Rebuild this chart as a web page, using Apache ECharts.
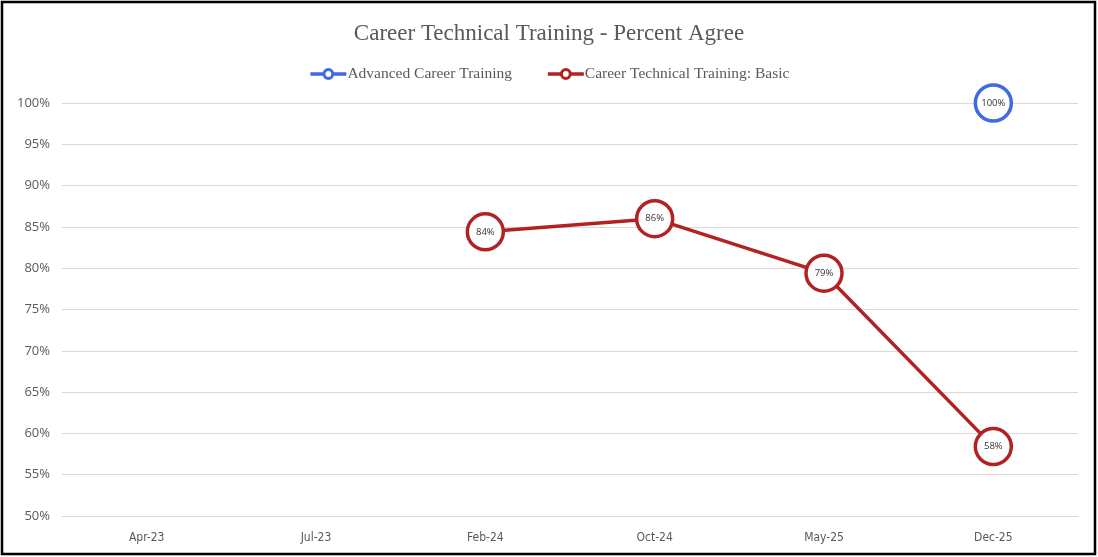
<!DOCTYPE html>
<html><head><meta charset="utf-8">
<script src="https://cdn.jsdelivr.net/npm/echarts@6/dist/echarts.min.js"></script>
<style>html,body{margin:0;padding:0;background:#fff}#c{width:1098px;height:557px}</style>
</head><body><div id="c"></div>
<script>
const categories = ['Apr-23','Jul-23','Feb-24','Oct-24','May-25','Dec-25'];
const advanced = [null, null, null, null, null, 100];
const basic = [null, null, 84.4, 86.0, 79.4, 58.4];
const seriesNames = ['Advanced Career Training','Career Technical Training: Basic'];
const colors = ['#4169e1', '#b22222'];

const chart = echarts.init(document.getElementById('c'));
const lbl = {show:true, position:'inside', fontSize:9.5, color:'#333', fontFamily:'Open Sans',
  formatter: p => Math.round(p.value) + '%'};
chart.setOption({
  animation:false,
  title:{text:'Career Technical Training - Percent Agree', left:'center', top:17,
    textStyle:{fontFamily:'Liberation Serif', fontSize:23, fontWeight:'normal', color:'#595959'}},
  legend:{top:61, left:'center', itemGap:34, itemWidth:36, itemHeight:11,
    textStyle:{fontFamily:'Liberation Serif', fontSize:15.5, color:'#595959', padding:[0,0,0,-4]},
    data:seriesNames.map((n,i)=>({name:n,
      itemStyle:{color:'#fff', borderColor:colors[i], borderWidth:3},
      lineStyle:{color:colors[i], width:3.5}}))},
  grid:{left:62, right:20, top:103, bottom:41, containLabel:false},
  xAxis:{type:'category', data:categories, boundaryGap:true,
    axisLine:{show:true, lineStyle:{color:'#d9d9d9'}}, axisTick:{show:false},
    axisLabel:{fontFamily:'DejaVu Sans Condensed', fontSize:12, color:'#595959', margin:16}},
  yAxis:{type:'value', min:50, max:100, interval:5,
    axisLine:{show:false}, axisTick:{show:false},
    splitLine:{lineStyle:{color:'#d9d9d9'}},
    axisLabel:{formatter:'{value}%', fontFamily:'Open Sans', fontSize:13, color:'#595959', margin:12}},
  series:[
    {name:seriesNames[0], type:'line', data:advanced, symbol:'circle', symbolSize:36,
     itemStyle:{color:'#fff', borderColor:colors[0], borderWidth:3.5},
     lineStyle:{color:colors[0], width:3.5}, label:lbl, connectNulls:false},
    {name:seriesNames[1], type:'line', data:basic, symbol:'circle', symbolSize:36,
     itemStyle:{color:'#fff', borderColor:colors[1], borderWidth:3.5},
     lineStyle:{color:colors[1], width:3.5}, label:lbl, connectNulls:false}
  ],
  graphic:[{type:'rect', shape:{x:2, y:2, width:1093, height:552},
    style:{fill:'none', stroke:'#000', lineWidth:2.5}, silent:true, z:100}]
});
</script></body></html>
